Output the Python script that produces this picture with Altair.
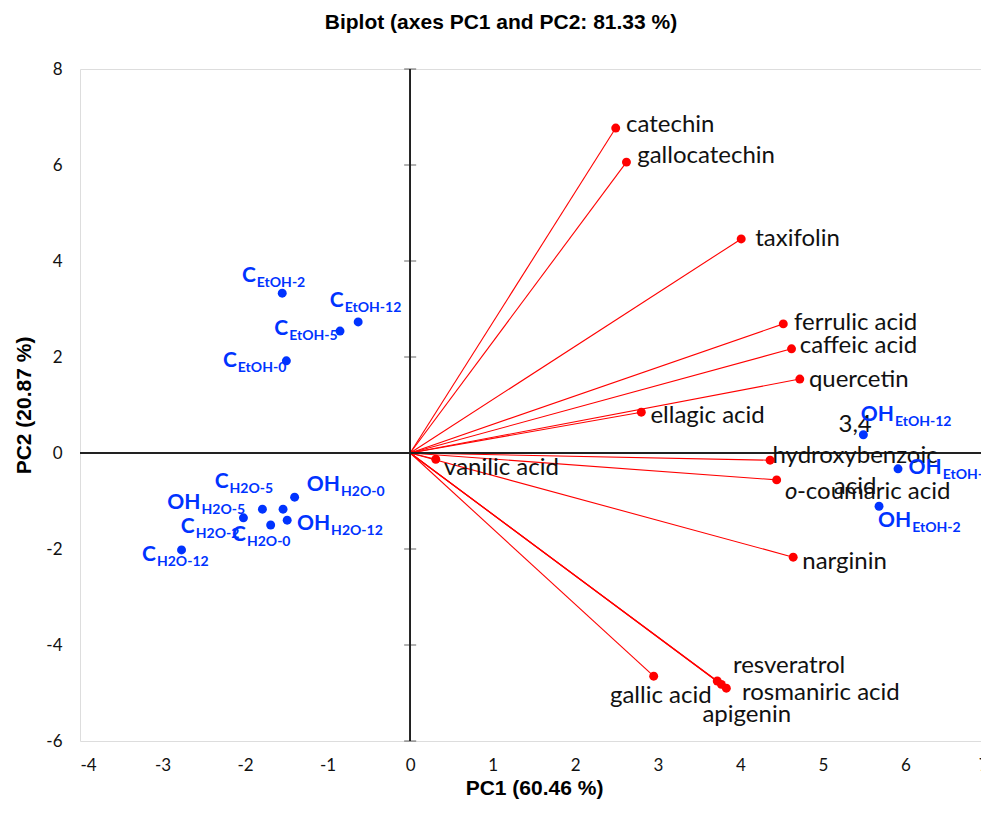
import altair as alt
import pandas as pd

# ---- variables (loadings) ----
var_names = ["catechin", "gallocatechin", "taxifolin", "ferrulic acid", "caffeic acid",
             "quercetin", "ellagic acid", "3,4 hydroxybenzoic acid", "o-coumaric acid",
             "narginin", "vanilic acid", "gallic acid", "resveratrol", "rosmaniric acid",
             "apigenin"]
var_pc1 = [2.49, 2.62, 4.01, 4.52, 4.62, 4.72, 2.80, 4.36, 4.44, 4.64, 0.31, 2.95, 3.72, 3.83, 3.77]
var_pc2 = [6.77, 6.06, 4.46, 2.69, 2.17, 1.54, 0.85, -0.15, -0.56, -2.17, -0.13, -4.65, -4.75, -4.90, -4.82]
# label text and label anchor (data units)
var_label = ["catechin", "gallocatechin", "taxifolin", "ferrulic acid", "caffeic acid",
             "quercetin", "ellagic acid", "3,4\nhydroxybenzoic\nacid", "-coumaric acid",
             "narginin", "vanilic acid", "gallic acid", "resveratrol", "rosmaniric acid",
             "apigenin"]
var_kind = ["plain"] * 7 + ["multi", "italic"] + ["plain"] * 6
var_lx = [2.615, 2.75, 4.18, 4.65, 4.72, 4.83, 2.91, 5.39, 4.54, 4.75, 0.41, 2.42, 3.91, 4.02, 3.54]
var_ly = [6.83, 6.19, 4.46, 2.71, 2.23, 1.52, 0.77, 0.58, -0.81, -2.27, -0.31, -5.06, -4.44, -5.00, -5.46]

# ---- observations (scores) ----
obs_main = ["C", "C", "C", "C", "OH", "C", "OH", "C", "C", "OH", "C", "OH", "OH", "OH"]
obs_sub = ["EtOH-2", "EtOH-12", "EtOH-5", "EtOH-0", "H2O-0", "H2O-5", "H2O-5", "H2O-2",
           "H2O-0", "H2O-12", "H2O-12", "EtOH-12", "EtOH-5", "EtOH-2"]
obs_pc1 = [-1.55, -0.63, -0.85, -1.50, -1.40, -1.79, -2.02, -1.54, -1.69, -1.49, -2.77, 5.49, 5.91, 5.68]
obs_pc2 = [3.33, 2.73, 2.54, 1.92, -0.92, -1.17, -1.35, -1.17, -1.50, -1.40, -2.02, 0.38, -0.33, -1.11]
obs_lx = [-1.87, -0.805, -1.477, -2.10, -0.85, -2.20, -2.54, -2.61, -1.99, -0.97, -3.08, 5.86, 6.44, 6.07]
obs_ly = [3.56, 3.04, 2.46, 1.79, -0.79, -0.73, -1.17, -1.67, -1.83, -1.60, -2.25, 0.67, -0.44, -1.54]

x_ticks = list(range(-4, 8))
y_ticks = list(range(-6, 9, 2))

vdf = pd.DataFrame({"name": var_names, "pc1": var_pc1, "pc2": var_pc2,
                    "label": var_label, "kind": var_kind, "lx": var_lx, "ly": var_ly})
odf = pd.DataFrame({"main": obs_main, "sub": obs_sub, "pc1": obs_pc1, "pc2": obs_pc2,
                    "lx": obs_lx, "ly": obs_ly})
tdf = pd.DataFrame({"t": y_ticks})

RED = "#ff0000"
BLUE = "#0033ff"
TXT = "Lato"
LBL = "datum.value < 0 ? '-' + (-datum.value) : '' + datum.value"

xs = alt.Scale(domain=[-4, 7], nice=False, zero=False)
ys = alt.Scale(domain=[-6, 8], nice=False, zero=False)

xax = alt.Axis(values=x_ticks, grid=False, domain=False, ticks=False, labelFont=TXT,
               labelFontSize=17, labelColor="#111", labelPadding=16, labelExpr=LBL,
               title="PC1 (60.46 %)", titleFont="Liberation Sans", titleFontSize=21,
               titleFontWeight="bold", titleColor="#000", titlePadding=4)
yax = alt.Axis(values=y_ticks, grid=False, domain=False, ticks=False, labelFont=TXT,
               labelFontSize=17, labelColor="#111", labelPadding=18, labelExpr=LBL,
               title="PC2 (20.87 %)", titleFont="Liberation Sans", titleFontSize=21,
               titleFontWeight="bold", titleColor="#000", titlePadding=11)


def X(f):
    return alt.X(f, type="quantitative", scale=xs, axis=xax, title="PC1 (60.46 %)")


def Y(f):
    return alt.Y(f, type="quantitative", scale=ys, axis=yax, title="PC2 (20.87 %)")


vline = alt.Chart(tdf).mark_rule(color="#222", strokeWidth=1).encode(x=alt.datum(0))
hline = alt.Chart(tdf).mark_rule(color="#222", strokeWidth=1).encode(y=alt.datum(0))
yt = alt.Chart(tdf).mark_tick(orient="horizontal", size=12, thickness=1, color="#222").encode(
    x=alt.datum(0), y=Y("t"))

rays = alt.Chart(vdf).mark_rule(color=RED, strokeWidth=1.1).encode(
    x=X("pc1"), y=Y("pc2"), x2=alt.datum(0), y2=alt.datum(0))
vpts = alt.Chart(vdf).mark_circle(color=RED, size=80, opacity=1).encode(
    x=X("pc1"), y=Y("pc2"))

vlab = alt.Chart(vdf).transform_filter(alt.datum.kind == "plain").mark_text(
    align="left", baseline="middle", font=TXT, fontSize=24, color="#111", clip=True).encode(
    x=X("lx"), y=Y("ly"), text="label")
vlab_multi = alt.Chart(vdf).transform_filter(alt.datum.kind == "multi").mark_text(
    align="center", baseline="middle", font=TXT, fontSize=24, color="#111", lineBreak="\n",
    lineHeight=31, clip=True).encode(
    x=X("lx"), y=Y("ly"), text="label")
vlab_o = alt.Chart(vdf).transform_filter(alt.datum.kind == "italic").mark_text(
    align="left", baseline="middle", font=TXT, fontSize=24, fontStyle="italic", color="#111",
    clip=True).encode(x=X("lx"), y=Y("ly"), text=alt.value("o"))
vlab_rest = alt.Chart(vdf).transform_filter(alt.datum.kind == "italic").mark_text(
    align="left", baseline="middle", font=TXT, fontSize=24, color="#111", dx=12,
    clip=True).encode(x=X("lx"), y=Y("ly"), text="label")

opts = alt.Chart(odf).mark_circle(color=BLUE, size=80, opacity=1).encode(
    x=X("pc1"), y=Y("pc2"))
omain = alt.Chart(odf).mark_text(align="right", baseline="alphabetic", font=TXT, fontSize=21,
                                 fontWeight="bold", color=BLUE, clip=True).encode(
    x=X("lx"), y=Y("ly"), text="main")
osub = alt.Chart(odf).mark_text(align="left", baseline="alphabetic", font=TXT, fontSize=14,
                                fontWeight="bold", color=BLUE, dy=5, dx=1, clip=True).encode(
    x=X("lx"), y=Y("ly"), text="sub")

chart = alt.layer(rays, vline, hline, yt, vpts, vlab, vlab_multi, vlab_o, vlab_rest,
                  opts, omain, osub).properties(
    width=908, height=672,
    autosize=alt.AutoSizeParams(type="none"),
    padding={"left": 72, "top": 61, "right": -7, "bottom": 60},
    title=alt.TitleParams("Biplot (axes PC1 and PC2: 81.33 %)", font="Liberation Sans",
                          fontSize=21, fontWeight="bold", color="#000", anchor="middle",
                          dx=-33, offset=27),
).configure_view(stroke="#c8c8c8", strokeWidth=1.5).configure(background="white")

chart.save("out.html", embed_options={"renderer": "svg", "actions": False})
